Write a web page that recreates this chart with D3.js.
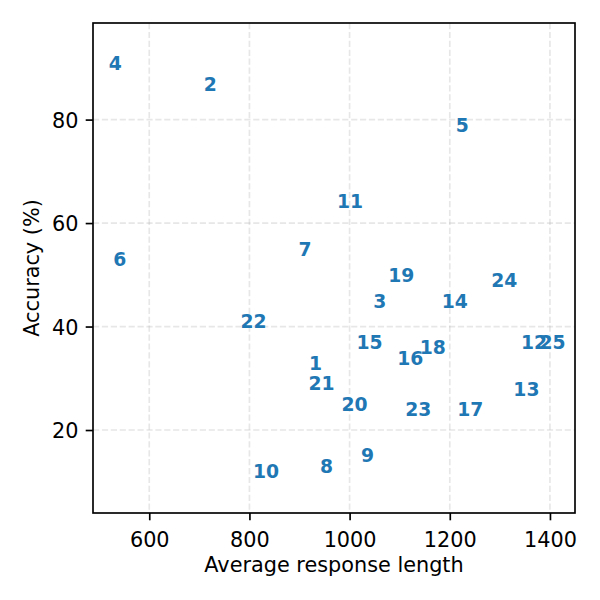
<!DOCTYPE html>
<html><head><meta charset="utf-8">
<script src="https://cdn.jsdelivr.net/npm/d3@7"></script>
<style>body{margin:0;background:#fff}svg{display:block}</style>
</head><body>
<script>
const labels = ["1","2","3","4","5","6","7","8","9","10","11","12","13","14","15","16","17","18","19","20","21","22","23","24","25"];
const responseLength = [932,722,1060,532,1225,541,911,954,1036,833,1001,1368,1353,1210,1040,1121,1241,1166,1103,1010,944,808,1137,1309,1405];
const accuracy = [33.0,86.8,45.0,90.9,79.0,53.1,55.0,13.1,15.1,12.1,64.2,37.0,27.9,45.0,37.0,33.9,24.1,36.1,50.0,25.0,29.1,41.1,24.1,48.9,37.0];
const xTicks = [600,800,1000,1200,1400];
const yTicks = [20,40,60,80];

const W=600,H=600, L=93, R=575, T=23, B=513;
const svg=d3.select("body").append("svg").attr("width",W).attr("height",H);
const x=d3.scaleLinear().domain([487.7,1450]).range([L,R]);
const y=d3.scaleLinear().domain([3.96,98.67]).range([B,T]);
const font="DejaVu Sans";

// grid
const g=svg.append("g");
g.selectAll(".gx").data(xTicks).join("line").attr("x1",d=>x(d)).attr("x2",d=>x(d)).attr("y1",T).attr("y2",B)
 .attr("stroke","#b0b0b0").attr("stroke-opacity",0.3).attr("stroke-width",1.67).attr("stroke-dasharray","6.2,2.7");
g.selectAll(".gy").data(yTicks).join("line").attr("y1",d=>y(d)).attr("y2",d=>y(d)).attr("x1",L).attr("x2",R)
 .attr("stroke","#b0b0b0").attr("stroke-opacity",0.3).attr("stroke-width",1.67).attr("stroke-dasharray","6.2,2.7");

// axes
const xAxis=svg.append("g").attr("transform",`translate(0,${B})`)
 .call(d3.axisBottom(x).tickValues(xTicks).tickSize(7.3).tickPadding(7.3).tickFormat(d3.format("d")));
const yAxis=svg.append("g").attr("transform",`translate(${L},0)`)
 .call(d3.axisLeft(y).tickValues(yTicks).tickSize(7.3).tickPadding(7.3).tickFormat(d3.format("d")));
[xAxis,yAxis].forEach(a=>{
  a.select(".domain").remove();
  a.selectAll(".tick line").attr("stroke","#000").attr("stroke-width",1.67);
  a.selectAll(".tick text").attr("font-family",font).attr("font-size",20.8).attr("fill","#000");
});
xAxis.selectAll(".tick text").attr("dy","0.95em");
yAxis.selectAll(".tick text").attr("dy","0.36em");

svg.append("rect").attr("x",L).attr("y",T).attr("width",R-L).attr("height",B-T)
 .attr("fill","none").attr("stroke","#000").attr("stroke-width",1.67);

// labels
svg.append("g").selectAll("text").data(labels).join("text")
 .attr("x",(d,i)=>x(responseLength[i])).attr("y",(d,i)=>y(accuracy[i]))
 .attr("dy","0.3645em").attr("text-anchor","middle")
 .attr("font-family",font).attr("font-weight","bold").attr("font-size",18.75).attr("fill","#1f77b4")
 .text(d=>d);

svg.append("text").attr("x",(L+R)/2).attr("y",572).attr("text-anchor","middle")
 .attr("font-family",font).attr("font-size",20.8).text("Average response length");
svg.append("text").attr("transform",`translate(39,${(T+B)/2}) rotate(-90)`).attr("text-anchor","middle")
 .attr("font-family",font).attr("font-size",20.8).text("Accuracy (%)");
</script>
</body></html>
